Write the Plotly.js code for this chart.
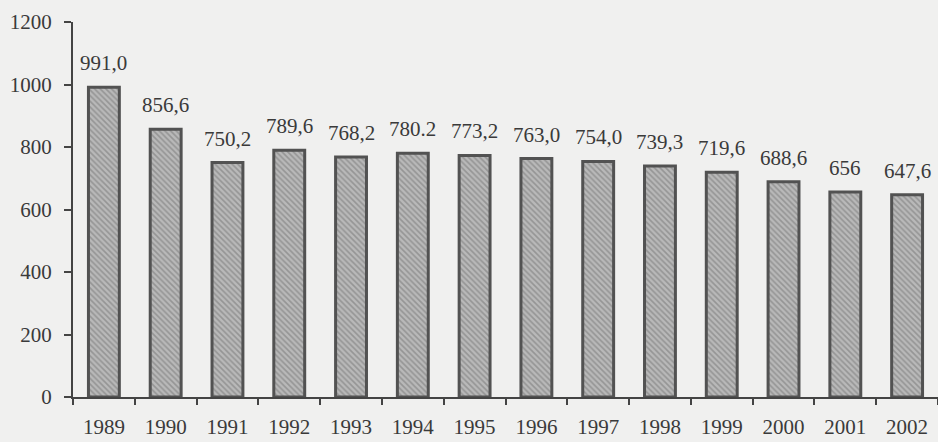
<!DOCTYPE html>
<html>
<head>
<meta charset="utf-8">
<script src="https://cdn.plot.ly/plotly-3.0.1.min.js"></script>
<style>
  html, body { margin: 0; padding: 0; background: #f0f0ef; }
  #chart { width: 938px; height: 442px; }
</style>
</head>
<body>
<div id="chart"></div>
<script>
// Annual values, 1989–2002
const years = ['1989', '1990', '1991', '1992', '1993', '1994', '1995',
               '1996', '1997', '1998', '1999', '2000', '2001', '2002'];
const values = [991.0, 856.6, 750.2, 789.6, 768.2, 780.2, 773.2,
                763.0, 754.0, 739.3, 719.6, 688.6, 656, 647.6];
const valueLabels = ['991,0', '856,6', '750,2', '789,6', '768,2', '780.2', '773,2',
                     '763,0', '754,0', '739,3', '719,6', '688,6', '656', '647,6'];
const yTicks = [0, 200, 400, 600, 800, 1000, 1200];

const textColor = '#3a3a3a';
const serif = 'Liberation Serif, Times New Roman, serif';

const trace = {
  type: 'bar',
  x: years,
  y: values,
  width: 0.5,
  marker: {
    color: '#ababab',
    line: { color: '#525252', width: 3 },
    pattern: { shape: '\\', fgcolor: '#959595', bgcolor: '#b9b9b9', size: 4, solidity: 0.4 }
  },
  hoverinfo: 'x+y'
};

// Value labels above each bar; category positions are given by index
// because the year strings would otherwise be read as serial numbers.
const annotations = years.map((yr, i) => ({
  x: i,
  y: values[i],
  text: valueLabels[i],
  showarrow: false,
  xanchor: 'center',
  yanchor: 'bottom',
  yshift: 10,
  font: { family: serif, size: 21, color: textColor }
}));

const layout = {
  width: 938,
  height: 442,
  margin: { l: 73, r: 0, t: 22, b: 45 },
  paper_bgcolor: '#f0f0ef',
  plot_bgcolor: '#f0f0ef',
  showlegend: false,
  font: { family: serif, size: 21, color: textColor },
  xaxis: {
    type: 'category',
    range: [-0.5, years.length - 0.5],
    showline: true,
    linecolor: '#444',
    linewidth: 2,
    ticks: 'outside',
    tickson: 'boundaries',
    ticklen: 6,
    tickwidth: 2,
    tickcolor: '#444',
    showgrid: false,
    zeroline: false,
    ticklabelstandoff: 10,
    tickangle: 0,
    tickfont: { family: serif, size: 21, color: textColor }
  },
  yaxis: {
    range: [0, 1200],
    tickvals: yTicks,
    ticktext: yTicks.map(String),
    showline: true,
    linecolor: '#444',
    linewidth: 2,
    ticks: 'outside',
    ticklen: 7,
    tickwidth: 2,
    tickcolor: '#444',
    showgrid: false,
    zeroline: false,
    ticklabelstandoff: 8,
    tickfont: { family: serif, size: 21, color: textColor }
  },
  annotations: annotations
};

Plotly.newPlot('chart', [trace], layout, { staticPlot: true, displayModeBar: false });
</script>
</body>
</html>
